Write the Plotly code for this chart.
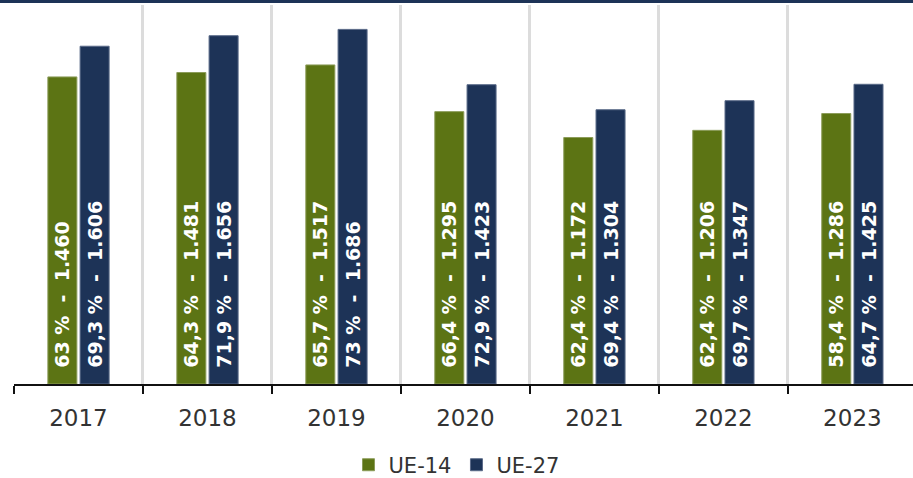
import plotly.graph_objects as go

years = ["2017", "2018", "2019", "2020", "2021", "2022", "2023"]
ue14_values = [1460, 1481, 1517, 1295, 1172, 1206, 1286]
ue14_pct = ["63", "64,3", "65,7", "66,4", "62,4", "62,4", "58,4"]
ue27_values = [1606, 1656, 1686, 1423, 1304, 1347, 1425]
ue27_pct = ["69,3", "71,9", "73", "72,9", "69,4", "69,7", "64,7"]

GREEN = "#5c7414"
NAVY = "#1d3357"
NB = "\u00a0"


def fmt(v):
    return f"{v:,}".replace(",", ".")


def labels(pcts, vals):
    return [f"{NB*2}{p}{NB}%{NB*2}-{NB*2}{fmt(v)}" for p, v in zip(pcts, vals)]


fig = go.Figure()
fig.add_trace(go.Bar(
    name="UE-14", x=years, y=ue14_values, text=labels(ue14_pct, ue14_values),
    marker=dict(color=GREEN, line=dict(color="#8c9c5a", width=1)),
))
fig.add_trace(go.Bar(
    name="UE-27", x=years, y=ue27_values, text=labels(ue27_pct, ue27_values),
    marker=dict(color=NAVY, line=dict(color="#5a6a88", width=1)),
))
fig.update_traces(
    textposition="inside", insidetextanchor="start", textangle=-90,
    constraintext="none",
    textfont=dict(family="DejaVu Sans", size=19, color="white", weight="bold"),
    hoverinfo="skip",
)

fig.update_layout(
    width=913, height=478,
    margin=dict(l=14, r=0, t=5, b=94, autoexpand=False),
    paper_bgcolor="white", plot_bgcolor="white",
    barmode="group", bargap=0.5, bargroupgap=0.1,
    showlegend=True,
    legend=dict(orientation="h", x=0.5, xanchor="center", xref="container",
                y=0.027, yanchor="middle", yref="container",
                font=dict(family="DejaVu Sans", size=21, color="#333333"),
                itemwidth=30, traceorder="normal"),
    xaxis=dict(
        type="category", range=[-0.5, 6.47], tickson="boundaries",
        showgrid=True, gridcolor="#dcdcdc", gridwidth=3,
        showline=True, linecolor="#111111", linewidth=2,
        ticks="outside", ticklen=8, tickwidth=2, tickcolor="#111111",
        ticklabelstandoff=12, automargin=False,
        tickfont=dict(family="DejaVu Sans", size=23, color="#333333"),
        zeroline=False,
    ),
    yaxis=dict(range=[0, 1802], visible=False, showgrid=False, zeroline=False),
    shapes=[dict(type="rect", xref="paper", yref="paper", x0=-0.02, x1=1.02,
                 ysizemode="pixel", yanchor=1, y0=2, y1=8,
                 fillcolor=NAVY, line=dict(width=0), layer="above")],
)

fig.write_html("out.html")
